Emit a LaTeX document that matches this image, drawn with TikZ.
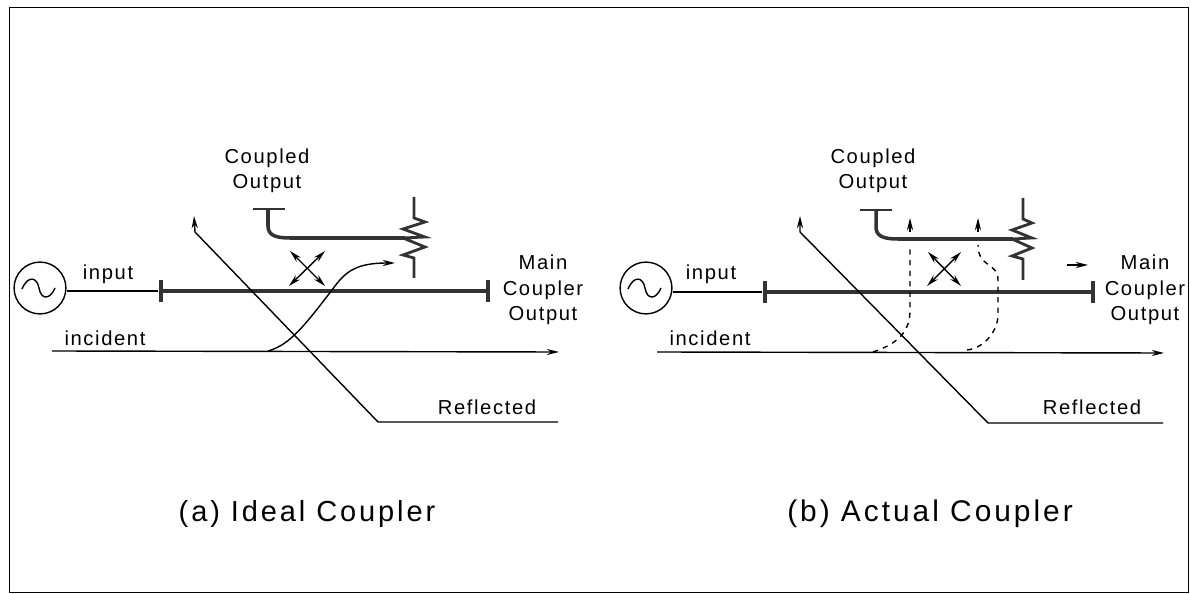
\documentclass[tikz,border=0pt]{standalone}
\usepackage{fontspec}
\setmainfont[LetterSpace=8]{Liberation Sans}
\newfontfamily\captionfont[LetterSpace=10]{Liberation Sans}
\usepackage{tikz}
\usetikzlibrary{arrows.meta,calc}

\begin{document}
\begin{tikzpicture}[
    x=0.02cm, y=-0.02cm,
    thin line/.style={draw=black, line width=0.8pt},
    main line/.style={draw=black!80, line width=2pt},
    tick/.style={rectangle, fill=black!80, inner sep=0pt, minimum width=2.5pt, minimum height=12pt},
    tip/.style={-{Stealth[length=7pt,width=3.5pt]}},
    both tips/.style={{Stealth[length=7pt,width=3.5pt]}-{Stealth[length=7pt,width=3.5pt]}},
    label/.style={font=\fontsize{11.5}{14.5}\selectfont, align=center, inner sep=0pt},
    caption/.style={font=\captionfont\fontsize{16.5}{19}\selectfont, inner sep=0pt},
    source/.style={circle, draw=black, line width=0.8pt, minimum size=29.5pt, inner sep=0pt}
]
    \useasboundingbox (0,0) rectangle (1190,594);
    \node[rectangle, draw=black, line width=0.8pt, inner sep=0pt, anchor=north west, minimum width=23.58cm, minimum height=11.7cm] (frame) at (9,7) {};

    % (a) ideal
    \node[source] (srcA) at (40,288) {};
    \draw[thin line] (22,289) .. controls (28,275) and (37,277) .. (39,288) .. controls (41,300) and (50,300) .. (55,288);
    \node[tick] (inA) at (161,291) {};
    \node[tick] (outA) at (488,291) {};
    \draw[thin line] (srcA.east |- inA) -- (inA);
    \draw[main line] (inA.center) -- (outA.center);
    \node[label] (inputA) at (108,274) {input};
    \node[label] (incidentA) at (105,338) {incident};
    \node[label] (coupledA) at (267,171) {Coupled\\Output};
    \node[label] (mainA) at (543,290) {Main\\Coupler\\Output};
    \node[label] (reflA) at (487,407) {Reflected};
    \node[caption] (capA) at (307,514) {(a) Ideal Coupler};

    \coordinate (incStartA) at (52,351);
    \coordinate (incEndA) at (559,352);
    \draw[thin line, tip] (incStartA) -- (incEndA);

    \coordinate (reflTipA) at (194,216);
    \coordinate (reflKneeA) at (195,232);
    \coordinate (reflLowA) at (378,422);
    \coordinate (reflEndA) at (558,422);
    \draw[thin line, tip] (reflEndA) -- (reflLowA) -- (reflKneeA) -- (reflTipA);

    \coordinate (forwardA) at (268,351);
    \coordinate (forwardEndA) at (395,263);
    \draw[thin line, tip] (forwardA) .. controls (290,345) and (305,325) .. (332,290) .. controls (345,272) and (355,263) .. (forwardEndA);

    % coupled arm with its load
    \coordinate (armLeftA) at (253,209);
    \coordinate (armRightA) at (285,209);
    \coordinate (armMidA) at (268,209);
    \coordinate (loadTopA) at (414,197);
    \coordinate (loadEndA) at (414,278);
    \coordinate (loadJoinA) at (405,238);
    \draw[main line, line width=1.4pt] (armLeftA) -- (armRightA);
    \draw[main line] (armMidA) -- (268,226) .. controls (268,235) and (275,238) .. (290,238) -- (loadJoinA);
    \draw[main line, line width=1.6pt] (loadTopA) -- (414,218) -- (425,222) -- (403,229) -- (425,237) -- (403,238) -- (425,247) -- (403,255) -- (414,258) -- (loadEndA);

    \coordinate (crossA1) at (290,251);
    \coordinate (crossA2) at (325,286);
    \coordinate (crossA3) at (289,286);
    \coordinate (crossA4) at (325,251);
    \draw[thin line, both tips] (crossA1) -- (crossA2);
    \draw[thin line, both tips] (crossA3) -- (crossA4);

    % (b) actual
    \node[source] (srcB) at (646,288) {};
    \draw[thin line] (628,289) .. controls (634,275) and (643,277) .. (645,288) .. controls (647,300) and (656,300) .. (661,288);
    \node[tick] (inB) at (765,292) {};
    \node[tick] (outB) at (1093,292) {};
    \draw[thin line] (srcB.east |- inB) -- (inB);
    \draw[main line] (inB.center) -- (outB.center);
    \node[label] (inputB) at (711,274) {input};
    \node[label] (incidentB) at (710,338) {incident};
    \node[label] (coupledB) at (873,171) {Coupled\\Output};
    \node[label] (mainB) at (1145,290) {Main\\Coupler\\Output};
    \node[label] (reflB) at (1092,407) {Reflected};
    \node[caption, font=\captionfont\fontsize{17}{19}\selectfont] (capB) at (930,514) {(b) Actual Coupler};

    \coordinate (incStartB) at (657,352);
    \coordinate (incEndB) at (1164,353);
    \draw[thin line, tip] (incStartB) -- (incEndB);

    \coordinate (reflTipB) at (800,216);
    \coordinate (reflKneeB) at (800,232);
    \coordinate (reflLowB) at (988,423);
    \coordinate (reflEndB) at (1163,423);
    \draw[thin line, tip] (reflEndB) -- (reflLowB) -- (reflKneeB) -- (reflTipB);

    \coordinate (armLeftB) at (860,210);
    \coordinate (armRightB) at (892,210);
    \coordinate (armMidB) at (876,210);
    \coordinate (loadTopB) at (1023,198);
    \coordinate (loadEndB) at (1023,280);
    \coordinate (loadJoinB) at (1013,239);
    \draw[main line, line width=1.4pt] (armLeftB) -- (armRightB);
    \draw[main line] (armMidB) -- (876,227) .. controls (876,236) and (883,239) .. (898,239) -- (loadJoinB);
    \draw[main line, line width=1.6pt] (loadTopB) -- (1023,219) -- (1032,223) -- (1012,230) -- (1032,238) -- (1012,239) -- (1032,248) -- (1012,256) -- (1023,259) -- (loadEndB);

    \coordinate (crossB1) at (928,252);
    \coordinate (crossB2) at (961,286);
    \coordinate (crossB3) at (927,286);
    \coordinate (crossB4) at (961,252);
    \draw[thin line, both tips] (crossB1) -- (crossB2);
    \draw[thin line, both tips] (crossB3) -- (crossB4);

    % leakage paths
    \coordinate (leakOneB) at (873,352);
    \coordinate (leakOneTopB) at (910,245);
    \coordinate (leakOneTailB) at (910,232);
    \coordinate (leakOneTipB) at (910,218);
    \coordinate (leakTwoB) at (967,350);
    \coordinate (leakTwoTopB) at (978,245);
    \coordinate (leakTwoTailB) at (978,232);
    \coordinate (leakTwoTipB) at (978,218);
    \draw[thin line, dashed] (leakOneB) .. controls (900,343) and (910,330) .. (910,310) -- (leakOneTopB);
    \draw[thin line, dashed] (leakTwoB) .. controls (985,348) and (998,330) .. (998,315) -- (998,280) .. controls (998,262) and (978,268) .. (leakTwoTopB);
    \draw[thin line, tip] (leakOneTailB) -- (leakOneTipB);
    \draw[thin line, tip] (leakTwoTailB) -- (leakTwoTipB);

    \coordinate (flowTailB) at (1067,265);
    \coordinate (flowTipB) at (1088,265);
    \draw[thin line, tip] (flowTailB) -- (flowTipB);
\end{tikzpicture}
\end{document}
